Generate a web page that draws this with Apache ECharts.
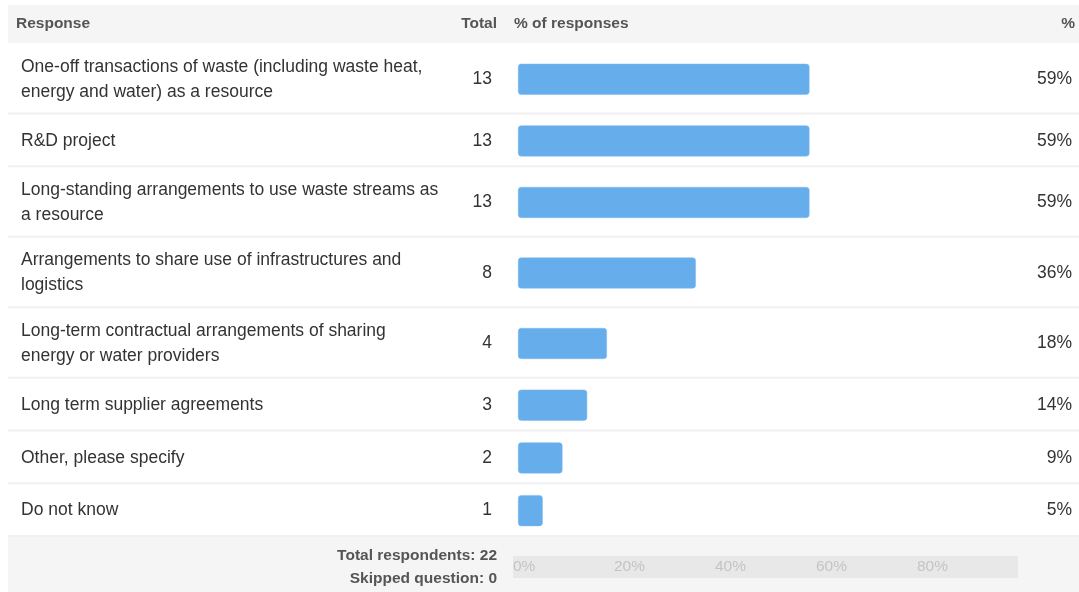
<!DOCTYPE html>
<html>
<head>
<meta charset="utf-8">
<script src="https://cdn.jsdelivr.net/npm/echarts@6/dist/echarts.min.js"></script>
<style>
  html, body { margin: 0; padding: 0; background: #fff; }
  #chart { width: 1079px; height: 592px; }
</style>
</head>
<body>
<div id="chart"></div>
<script>
// Survey answers, counts and shares
const responses = [
  'One-off transactions of waste (including waste heat,\nenergy and water) as a resource',
  'R&D project',
  'Long-standing arrangements to use waste streams as\na resource',
  'Arrangements to share use of infrastructures and\nlogistics',
  'Long-term contractual arrangements of sharing\nenergy or water providers',
  'Long term supplier agreements',
  'Other, please specify',
  'Do not know'
];
const totals = [13, 13, 13, 8, 4, 3, 2, 1];
const percents = [59, 59, 59, 36, 18, 14, 9, 5];
const axisTicks = [0, 20, 40, 60, 80];
const respondents = 22;
const skipped = 0;

const FONT = "'Liberation Sans', Arial, Helvetica, sans-serif";
const TABLE_LEFT = 8, TABLE_RIGHT = 1079;
const BODY_TOP = 43;
const LINE_ROW = 52.75, DOUBLE_ROW = 70.5;
const BAR_LEFT = 518, BAR_SPAN = 494;
const BODY_SIZE = 17.5;

const chart = echarts.init(document.getElementById('chart'), null, { renderer: 'canvas' });

const grids = [], xAxes = [], yAxes = [], series = [], graphics = [];

// header band
graphics.push({ type: 'rect', z: -10, shape: { x: TABLE_LEFT, y: 5, width: TABLE_RIGHT - TABLE_LEFT, height: BODY_TOP - 5 },
  style: { fill: '#f5f5f5' }, silent: true });
const headStyle = { font: 'bold 15.5px ' + FONT, fill: '#555', textVerticalAlign: 'middle' };
graphics.push({ type: 'text', style: Object.assign({ text: 'Response', x: 16, y: 24, textAlign: 'left' }, headStyle) });
graphics.push({ type: 'text', style: Object.assign({ text: 'Total', x: 497, y: 24, textAlign: 'right' }, headStyle) });
graphics.push({ type: 'text', style: Object.assign({ text: '% of responses', x: 514, y: 24, textAlign: 'left' }, headStyle) });
graphics.push({ type: 'text', style: Object.assign({ text: '%', x: 1075, y: 24, textAlign: 'right' }, headStyle) });

// one grid per row, height follows the number of text lines
let y = BODY_TOP;
responses.forEach((label, i) => {
  const lines = label.split('\n').length;
  const h = lines > 1 ? DOUBLE_ROW : LINE_ROW;
  grids.push({ left: BAR_LEFT, width: BAR_SPAN, top: y + 1, height: h });
  xAxes.push({ type: 'value', gridIndex: i, min: 0, max: 100, show: false });
  const yBase = { type: 'category', gridIndex: i, axisLine: { show: false }, axisTick: { show: false },
    splitLine: { show: false } };
  // response text
  yAxes.push(Object.assign({}, yBase, { position: 'left', data: [label],
    axisLabel: { align: 'left', margin: BAR_LEFT - 21, fontFamily: FONT, fontSize: BODY_SIZE, lineHeight: 25, color: '#333' } }));
  // total count
  yAxes.push(Object.assign({}, yBase, { position: 'left', data: [String(totals[i])],
    axisLabel: { align: 'right', margin: BAR_LEFT - 492, fontFamily: FONT, fontSize: BODY_SIZE, color: '#333' } }));
  // percentage
  yAxes.push(Object.assign({}, yBase, { position: 'right', data: [percents[i] + '%'],
    axisLabel: { align: 'right', margin: 1072 - (BAR_LEFT + BAR_SPAN), fontFamily: FONT, fontSize: BODY_SIZE, color: '#333' } }));
  series.push({ type: 'bar', xAxisIndex: i, yAxisIndex: i * 3, data: [percents[i]], barWidth: 31,
    itemStyle: { color: '#66adec', borderRadius: 3, borderColor: '#7dbaf0', borderWidth: 0.5 }, silent: true });
  y += h;
  // row separator
  graphics.push({ type: 'rect', z: -10, shape: { x: TABLE_LEFT, y: y - 1, width: TABLE_RIGHT - TABLE_LEFT, height: 2 },
    style: { fill: '#f0f0f0' }, silent: true });
});

// footer band
graphics.unshift({ type: 'rect', z: -20, shape: { x: TABLE_LEFT, y: y, width: TABLE_RIGHT - TABLE_LEFT, height: 592 - y },
  style: { fill: '#f5f5f5' }, silent: true });
const footStyle = { font: 'bold 15.5px ' + FONT, fill: '#555', textAlign: 'right', textVerticalAlign: 'middle' };
graphics.push({ type: 'text', style: Object.assign({ text: 'Total respondents: ' + respondents, x: 497, y: 556 }, footStyle) });
graphics.push({ type: 'text', style: Object.assign({ text: 'Skipped question: ' + skipped, x: 497, y: 579 }, footStyle) });

// percentage scale in the footer
const fi = responses.length;
grids.push({ left: 513, width: 505, top: 556, height: 22, show: true, backgroundColor: '#e8e8e8', borderWidth: 0, z: 5 });
xAxes.push({ type: 'value', gridIndex: fi, min: 0, max: 100, interval: 20, z: 6,
  axisLine: { show: false }, axisTick: { show: false }, splitLine: { show: false },
  axisLabel: { showMaxLabel: false, align: 'left', margin: -19, fontFamily: FONT, fontSize: 15.5, color: '#c4c4c4',
    formatter: v => axisTicks.includes(v) ? v + '%' : '' } });
yAxes.push({ type: 'category', gridIndex: fi, data: [''], show: false });

chart.setOption({
  animation: false,
  grid: grids,
  xAxis: xAxes,
  yAxis: yAxes,
  series: series,
  graphic: { elements: graphics }
});
</script>
</body>
</html>
